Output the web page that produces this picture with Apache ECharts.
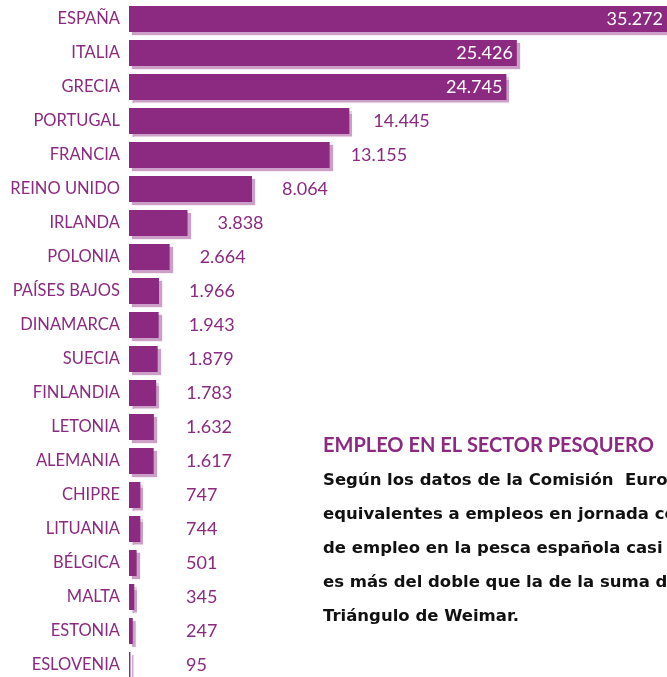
<!DOCTYPE html>
<html>
<head>
<meta charset="utf-8">
<script src="https://cdn.jsdelivr.net/npm/echarts@6/dist/echarts.min.js"></script>
<style>
html,body{margin:0;padding:0;background:#fff;}
#c{width:667px;height:677px;}
</style>
</head>
<body>
<div id="c"></div>
<script>
var categories = ['ESPAÑA','ITALIA','GRECIA','PORTUGAL','FRANCIA','REINO UNIDO','IRLANDA','POLONIA','PAÍSES BAJOS','DINAMARCA','SUECIA','FINLANDIA','LETONIA','ALEMANIA','CHIPRE','LITUANIA','BÉLGICA','MALTA','ESTONIA','ESLOVENIA'];
var values = [35272,25426,24745,14445,13155,8064,3838,2664,1966,1943,1879,1783,1632,1617,747,744,501,345,247,95];
var titleText = 'EMPLEO EN EL SECTOR PESQUERO';
var bodyLines = [
  'Según los datos de la Comisión  Europea,',
  'equivalentes a empleos en jornada completa,',
  'de empleo en la pesca española casi triplica',
  'es más del doble que la de la suma de los',
  'Triángulo de Weimar.'
];

var PURPLE = '#8B2A80';
var FONT = 'Lato, "Noto Sans", sans-serif';
var TITLE_FONT = 'Lato, "Open Sans", sans-serif';
var BODY_FONT = '"DejaVu Sans", Verdana, sans-serif';
var GRID_LEFT = 129, GRID_W = 538, X_MAX = 35272;

function fmt(v){ return String(v).replace(/\B(?=(\d{3})+(?!\d))/g, '.'); }

var seriesData = values.map(function(v){
  var endPx = GRID_LEFT + v / X_MAX * GRID_W;
  var item = { value: v };
  if (v > 20000) {
    item.label = { position: 'insideRight', distance: 4, color: '#ffffff' };
  } else {
    var d = v > 14000 ? 24 : (v > 10000 ? 21 : Math.max(30, 186 - endPx));
    item.label = { position: 'right', distance: d, color: PURPLE };
  }
  return item;
});

var graphics = [{
  type: 'text', left: 323, top: 436,
  style: { text: titleText, fill: PURPLE, font: 'bold 20px ' + TITLE_FONT }
}];
bodyLines.forEach(function(t, i){
  graphics.push({
    type: 'text', left: 323, top: 472 + i * 34,
    style: { text: t, fill: '#111111', font: 'bold 16.5px ' + BODY_FONT }
  });
});

var chart = echarts.init(document.getElementById('c'), null, {renderer: 'canvas'});
chart.setOption({
  animation: false,
  backgroundColor: '#ffffff',
  grid: { left: GRID_LEFT, top: 2, width: GRID_W, height: 680, containLabel: false, outerBoundsMode: 'none' },
  xAxis: { type: 'value', min: 0, max: X_MAX, show: false, splitLine: { show: false } },
  yAxis: {
    type: 'category', data: categories, inverse: true,
    axisLine: { show: false }, axisTick: { show: false }, splitLine: { show: false },
    axisLabel: { color: PURPLE, fontSize: 16.5, fontFamily: FONT, margin: 9 }
  },
  series: [{
    type: 'bar', data: seriesData, barWidth: 26,
    itemStyle: {
      color: PURPLE,
      shadowColor: 'rgba(139,42,128,0.45)', shadowBlur: 1, shadowOffsetX: 3, shadowOffsetY: 3
    },
    label: { show: true, fontSize: 18, fontFamily: FONT, formatter: function(p){ return fmt(p.value); } }
  }],
  graphic: graphics
});
</script>
</body>
</html>
